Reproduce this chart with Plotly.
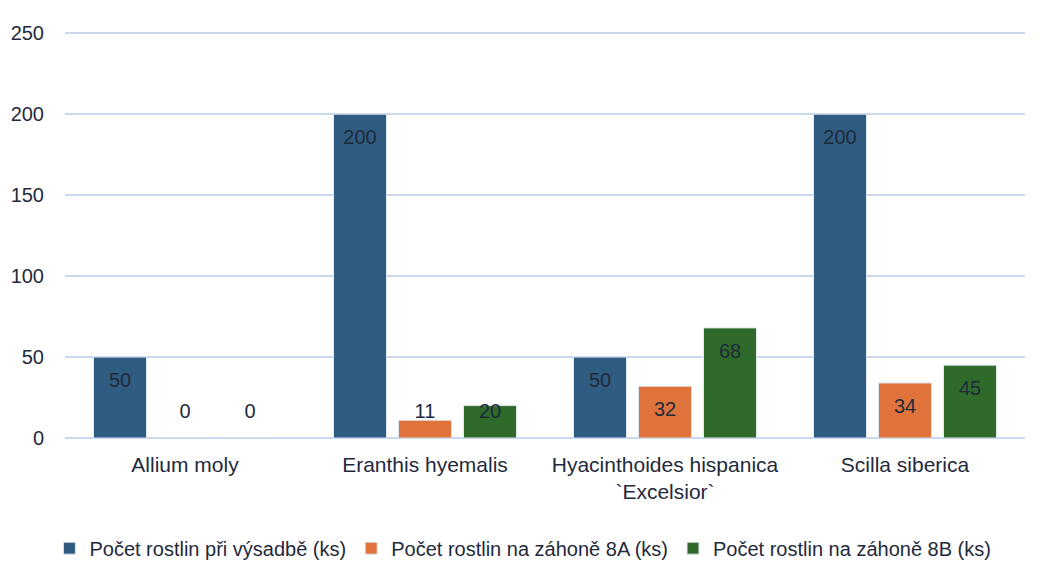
import plotly.graph_objects as go

categories = ["Allium moly", "Eranthis hyemalis", "Hyacinthoides hispanica<br>`Excelsior`", "Scilla siberica"]
series_names = ["Počet rostlin při výsadbě (ks)", "Počet rostlin na záhoně 8A (ks)", "Počet rostlin na záhoně 8B (ks)"]
vysadba = [50, 200, 50, 200]
zahon_8a = [0, 11, 32, 34]
zahon_8b = [0, 20, 68, 45]
y_ticks = [0, 50, 100, 150, 200, 250]

colors = ["#2f5c80", "#e0733b", "#2f6a2a"]
font_family = "Liberation Sans, Arial, sans-serif"
text_color = "#1f2a3c"
label_inset = 15.5  # data units: labels sit just inside the bar end, never below this level

fig = go.Figure()
groups = ["g1", "g2", "g3"]
for name, vals, col, grp in zip(series_names, [vysadba, zahon_8a, zahon_8b], colors, groups):
    fig.add_trace(go.Bar(
        x=categories, y=vals, name=name, offsetgroup=grp,
        marker=dict(color=col, line=dict(color="#dfe7f0", width=1)),
        hoverinfo="x+y",
    ))
for name, vals, grp in zip(series_names, [vysadba, zahon_8a, zahon_8b], groups):
    fig.add_trace(go.Scatter(
        x=categories, y=[max(v - label_inset, label_inset) for v in vals],
        mode="text", text=[str(v) for v in vals], textposition="middle center",
        textfont=dict(size=20, color=text_color, family=font_family),
        offsetgroup=grp, showlegend=False, hoverinfo="skip", cliponaxis=False,
    ))

fig.update_layout(
    width=1032, height=555,
    margin=dict(l=57, r=15, t=22, b=125, autoexpand=False),
    paper_bgcolor="white", plot_bgcolor="white",
    barmode="group", bargap=0.1875, bargroupgap=0.185,
    scattermode="group", scattergap=0.1875,
    font=dict(family=font_family, size=20, color=text_color),
    legend=dict(orientation="h", x=0.477, xanchor="center", y=-0.27, yanchor="middle",
                font=dict(size=20, color=text_color), itemwidth=30, traceorder="normal"),
    xaxis=dict(showgrid=False, showline=False, ticks="", tickfont=dict(size=21),
               ticklabelstandoff=12, automargin=False),
    yaxis=dict(range=[0, 252], tickvals=y_ticks, showgrid=True, gridcolor="#c8d8ee", gridwidth=2,
               zeroline=True, zerolinecolor="#c8d8ee", zerolinewidth=2,
               tickfont=dict(size=20), ticklabelstandoff=20, automargin=False),
)

fig.write_html("out.html")
